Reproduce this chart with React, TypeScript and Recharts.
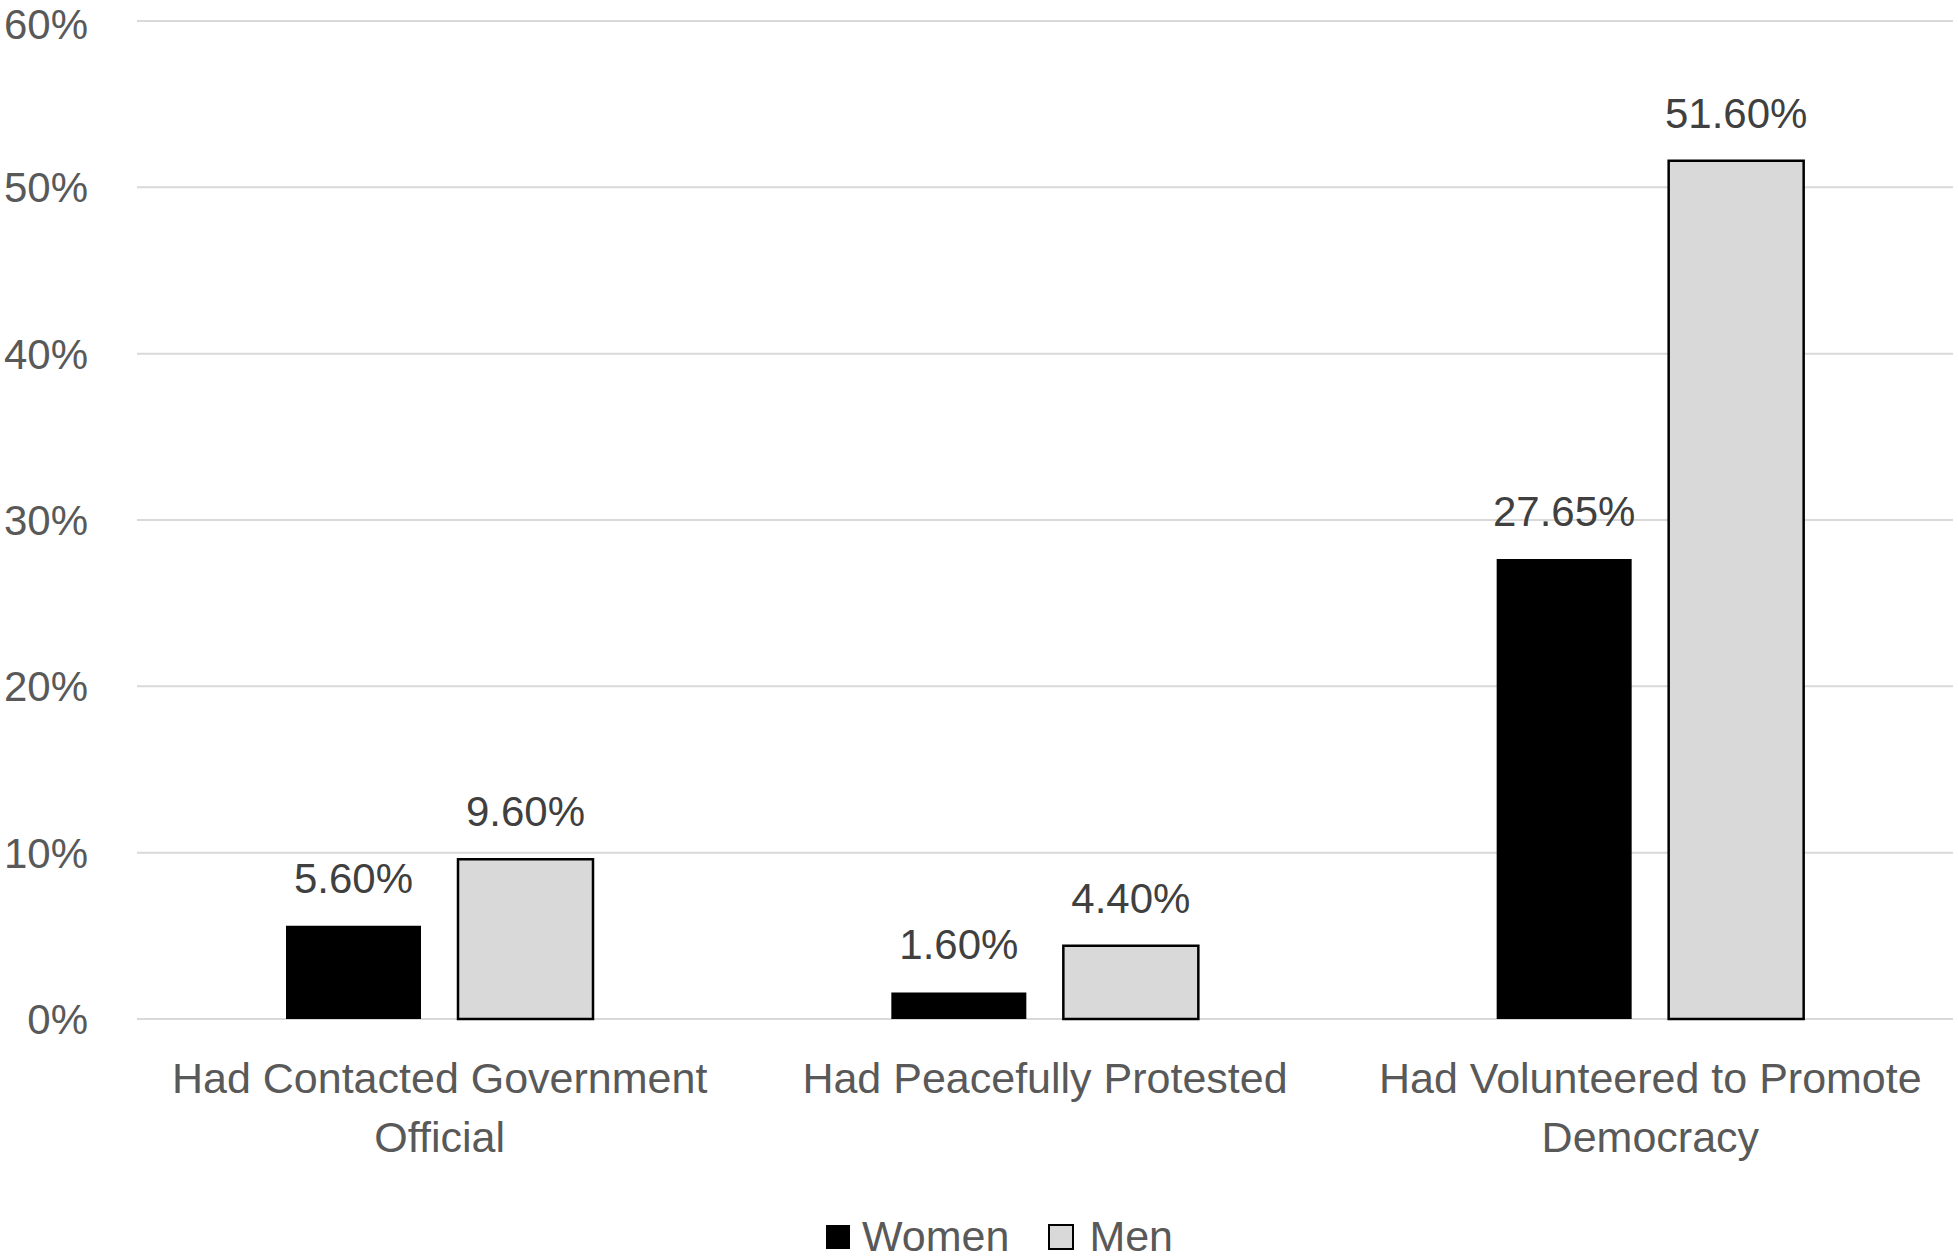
import React from 'react';
import { BarChart, Bar, XAxis, YAxis, CartesianGrid, LabelList, Legend } from 'recharts';

const categories = [
  'Had Contacted Government Official',
  'Had Peacefully Protested',
  'Had Volunteered to Promote Democracy',
];
const categoryLines = [
  ['Had Contacted Government', 'Official'],
  ['Had Peacefully Protested'],
  ['Had Volunteered to Promote', 'Democracy'],
];
const women = [5.6, 1.6, 27.65];
const men = [9.6, 4.4, 51.6];
const yTicks = [0, 10, 20, 30, 40, 50, 60];
const seriesNames = ['Women', 'Men'];

const data = categories.map((c, i) => ({ name: c, women: women[i], men: men[i] }));

const FONT = '"Liberation Sans", Arial, sans-serif';

const CategoryTick = (props: any) => {
  const { x, y, payload } = props;
  const idx = categories.indexOf(payload.value);
  const lines = categoryLines[idx] || [payload.value];
  return (
    <text x={x} y={y} textAnchor="middle" fill="#595959" fontSize={43} fontFamily={FONT}>
      {lines.map((l, i) => (
        <tspan key={i} x={x} dy={i === 0 ? 74 : 59}>
          {l}
        </tspan>
      ))}
    </text>
  );
};

const LegendContent = () => (
  <div style={{ display: 'flex', alignItems: 'center', fontFamily: FONT, fontSize: 43, color: '#595959', lineHeight: '43px', whiteSpace: 'nowrap' }}>
    <div style={{ width: 24, height: 24, background: '#000', marginRight: 12 }} />
    <span style={{ marginRight: 39 }}>{seriesNames[0]}</span>
    <div style={{ width: 22, height: 22, background: '#d9d9d9', border: '2px solid #000', marginRight: 15 }} />
    <span>{seriesNames[1]}</span>
  </div>
);

export default function App() {
  return (
    <div style={{ position: 'absolute', left: 0, top: 0, width: 1958, height: 1258, background: '#fff' }}>
      <BarChart
        width={1958}
        height={1258}
        data={data}
        margin={{ top: 21, right: 5, left: 0, bottom: 139 }}
        barSize={135}
        barGap={37}
      >
        <CartesianGrid vertical={false} stroke="#d9d9d9" strokeWidth={2} />
        <XAxis
          dataKey="name"
          axisLine={false}
          tickLine={false}
          tickSize={0}
          tickMargin={0}
          height={100}
          interval={0}
          tick={<CategoryTick />}
        />
        <YAxis
          domain={[0, 60]}
          ticks={yTicks}
          tickFormatter={(v: number) => `${v}%`}
          axisLine={false}
          tickLine={false}
          tickSize={0}
          tickMargin={49}
          width={137}
          tick={{ fill: '#595959', fontSize: 42, fontFamily: FONT }}
        />
        <Legend
          layout="horizontal"
          verticalAlign="middle"
          align="center"
          wrapperStyle={{ top: 1215, left: 826, width: 500 }}
          content={<LegendContent />}
        />
        <Bar dataKey="women" name={seriesNames[0]} fill="#000000" isAnimationActive={false}>
          <LabelList
            dataKey="women"
            position="top"
            offset={33}
            formatter={(v: number) => `${v.toFixed(2)}%`}
            fill="#404040"
            fontSize={42}
            fontFamily={FONT}
          />
        </Bar>
        <Bar dataKey="men" name={seriesNames[1]} fill="#d9d9d9" stroke="#000000" strokeWidth={2.5} isAnimationActive={false}>
          <LabelList
            dataKey="men"
            position="top"
            offset={33}
            formatter={(v: number) => `${v.toFixed(2)}%`}
            fill="#404040"
            fontSize={42}
            fontFamily={FONT}
          />
        </Bar>
      </BarChart>
    </div>
  );
}
